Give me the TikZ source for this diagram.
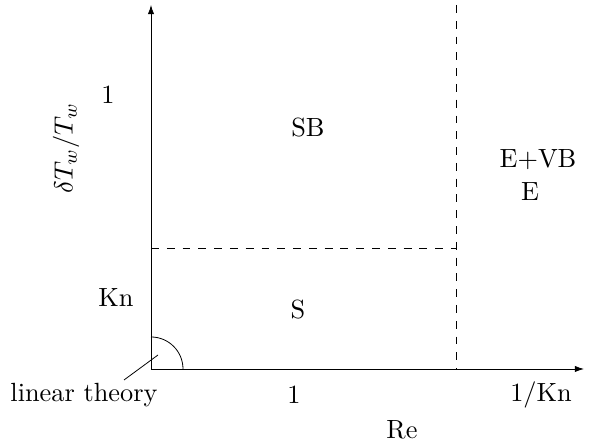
\documentclass[tikz,border=0pt]{standalone}
\usetikzlibrary{arrows.meta}
\begin{document}
\begin{tikzpicture}[x=0.38pt,y=-0.38pt,
  axis/.style={line width=0.3pt,-{Latex[length=3.5pt,width=2.4pt]}},
  divider/.style={dashed,line width=0.3pt},
  thin line/.style={line width=0.3pt},
  lbl/.style={inner sep=0pt,font=\fontsize{10}{12}\selectfont}]
\useasboundingbox (0,0) rectangle (589,442);
\coordinate (O) at (151,369);
\coordinate (ytop) at (151,5);
\coordinate (xend) at (584,369);
\coordinate (vtop) at (456,5);
\coordinate (vbot) at (456,369);
\coordinate (hl) at (151,248);
\coordinate (hr) at (456,248);
\draw[axis] (O) -- (ytop);
\draw[axis] (O) -- (xend);
\draw[divider] (vtop) -- (vbot);
\draw[divider] (hl) -- (hr);
\draw[thin line] (183,369) arc[start angle=0,end angle=-90,radius=32];
\node[lbl] (y1) at (108,95) {1};
\node[lbl] (sb) at (308,128) {SB};
\node[lbl] (evb) at (538,160) {E+VB};
\node[lbl] (e) at (530,192) {E};
\node[lbl] (kn) at (116,298) {Kn};
\node[lbl] (s) at (298,310) {S};
\node[lbl] (lt) at (84,395) {linear theory};
\node[lbl] (x1) at (294,395) {1};
\node[lbl] (xkn) at (541,395) {1/Kn};
\node[lbl] (re) at (402,430) {Re};
\node[lbl,rotate=90] (yl) at (66,148) {$\delta T_w/T_w$};
\coordinate (ptr) at (158,355);
\coordinate (ptrfoot) at (124,380);
\draw[thin line] (ptrfoot) -- (ptr);
\end{tikzpicture}
\end{document}
